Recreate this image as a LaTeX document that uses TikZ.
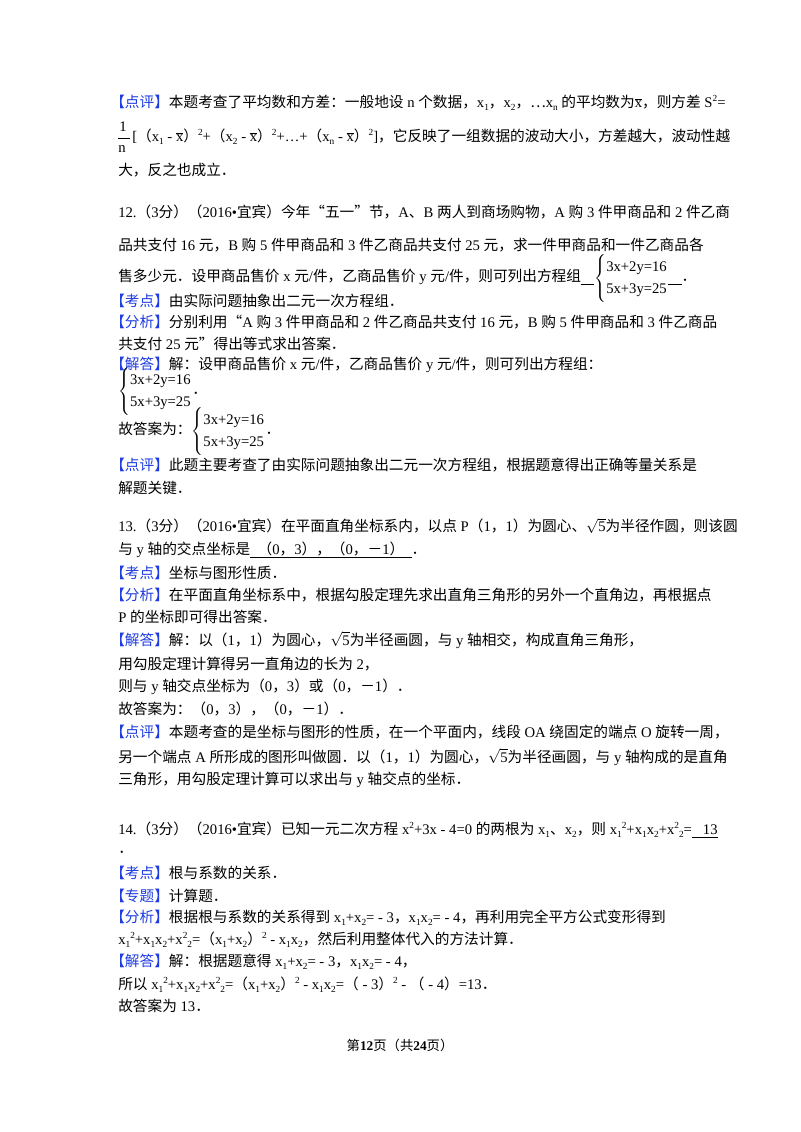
\documentclass[tikz,border=0pt]{standalone}
\usepackage{fontspec}
\setmainfont{Liberation Serif}
\newfontfamily\cjk{Noto Sans CJK SC}
\XeTeXinterchartokenstate=1
\newXeTeXintercharclass\cjkcls
\makeatletter
\count@="4E00 \loop \XeTeXcharclass\count@=\cjkcls \ifnum\count@<"9FFF \advance\count@ 1 \repeat
\count@="3000 \loop \XeTeXcharclass\count@=\cjkcls \ifnum\count@<"303F \advance\count@ 1 \repeat
\count@="FF00 \loop \XeTeXcharclass\count@=\cjkcls \ifnum\count@<"FFEF \advance\count@ 1 \repeat
\XeTeXcharclass"201C=\cjkcls \XeTeXcharclass"201D=\cjkcls \XeTeXcharclass"22EF=\cjkcls
\makeatother
\XeTeXinterchartoks 0 \cjkcls = {\begingroup\cjk}
\XeTeXinterchartoks 4095 \cjkcls = {\begingroup\cjk}
\XeTeXinterchartoks \cjkcls 0 = {\endgroup}
\XeTeXinterchartoks \cjkcls 4095 = {\endgroup}
\definecolor{labblue}{RGB}{30,60,225}
\newcommand\lab[1]{{\color{labblue}【#1】}}
\newcommand\dn[1]{\raisebox{-0.4ex}{\fontsize{7}{7}\selectfont #1}}
\newcommand\up[1]{\raisebox{0.9ex}{\fontsize{7}{7}\selectfont #1}}
\newcommand\xb{$\overline{\mbox{x}}$}
\newcommand\rtf{$\sqrt{\mbox{5}}$}
\newcommand\sys{{\renewcommand\arraystretch{1.3}$\left\{\begin{array}{@{}l@{}}\mbox{3x+2y=16}\\\mbox{5x+3y=25}\end{array}\right.$}}
\newcommand\ul[1]{\underline{\ \ #1\ \ }}
\newcommand\blank{\rule[-2pt]{10pt}{0.5pt}}
\begin{document}
\begin{tikzpicture}[x=0.75pt,y=-0.75pt,
  ln/.style={anchor=west,inner sep=0pt,font=\fontsize{11}{13}\selectfont}]
\useasboundingbox (0,0) rectangle (800,1132);
\fill[white] (0,0) rectangle (800,1132);
% block 1
\node[ln] (a1) at (110,103) {\lab{点评}本题考查了平均数和方差：一般地设 n 个数据，x\dn1，x\dn2，⋯x\dn{n} 的平均数为\xb，则方差 S\up2=};
\node[ln] (fn1) at (119,127) {1};
\node[ln] (fn2) at (118,149) {n};
\draw[line width=0.6pt] (118,138) -- (130,138);
\node[ln] (a2) at (132,137) {[（x\dn1 - \xb）\up2+（x\dn2 - \xb）\up2+…+（x\dn{n} - \xb）\up2]，它反映了一组数据的波动大小，方差越大，波动性越};
\node[ln] (a3) at (118,170) {大，反之也成立．};
% Q12
\node[ln] (b1) at (118,212) {12.（3分）（2016•宜宾）今年“五一”节，A、B 两人到商场购物，A 购 3 件甲商品和 2 件乙商};
\node[ln] (b2) at (118,245) {品共支付 16 元，B 购 5 件甲商品和 3 件乙商品共支付 25 元，求一件甲商品和一件乙商品各};
\node[ln] (b3) at (118,278) {售多少元．设甲商品售价 x 元/件，乙商品售价 y 元/件，则可列出方程组\blank\sys\blank．};
\node[ln] (b4) at (110,301) {\lab{考点}由实际问题抽象出二元一次方程组．};
\node[ln] (b5) at (110,322) {\lab{分析}分别利用“A 购 3 件甲商品和 2 件乙商品共支付 16 元，B 购 5 件甲商品和 3 件乙商品};
\node[ln] (b6) at (118,344) {共支付 25 元”得出等式求出答案．};
\node[ln] (b7) at (110,365) {\lab{解答}解：设甲商品售价 x 元/件，乙商品售价 y 元/件，则可列出方程组：};
\node[ln] (b8) at (118,391) {\sys．};
\node[ln] (b9) at (118,431) {故答案为：\sys．};
\node[ln] (b10) at (110,465) {\lab{点评}此题主要考查了由实际问题抽象出二元一次方程组，根据题意得出正确等量关系是};
\node[ln] (b11) at (118,488) {解题关键．};
% Q13
\node[ln] (c1) at (118,526) {13.（3分）（2016•宜宾）在平面直角坐标系内，以点 P（1，1）为圆心、\rtf 为半径作圆，则该圆};
\node[ln] (c2) at (118,550) {与 y 轴的交点坐标是\ul{（0，3），（0，－1）}．};
\node[ln] (c3) at (110,573) {\lab{考点}坐标与图形性质．};
\node[ln] (c4) at (110,595) {\lab{分析}在平面直角坐标系中，根据勾股定理先求出直角三角形的另外一个直角边，再根据点};
\node[ln] (c5) at (118,617) {P 的坐标即可得出答案．};
\node[ln] (c6) at (110,640) {\lab{解答}解：以（1，1）为圆心，\rtf 为半径画圆，与 y 轴相交，构成直角三角形，};
\node[ln] (c7) at (118,664) {用勾股定理计算得另一直角边的长为 2，};
\node[ln] (c8) at (118,687) {则与 y 轴交点坐标为（0，3）或（0，－1）．};
\node[ln] (c9) at (118,709) {故答案为：（0，3），（0，－1）．};
\node[ln] (c10) at (110,732) {\lab{点评}本题考查的是坐标与图形的性质，在一个平面内，线段 OA 绕固定的端点 O 旋转一周，};
\node[ln] (c11) at (118,757) {另一个端点 A 所形成的图形叫做圆．以（1，1）为圆心，\rtf 为半径画圆，与 y 轴构成的是直角};
\node[ln] (c12) at (118,780) {三角形，用勾股定理计算可以求出与 y 轴交点的坐标．};
% Q14
\node[ln] (d1) at (118,830) {14.（3分）（2016•宜宾）已知一元二次方程 x\up2+3x - 4=0 的两根为 x\dn1、x\dn2，则 x\dn1\up2+x\dn1x\dn2+x\up2\dn2=\underline{\ \ \ 13}};
\node[ln] (d2) at (118,852) {．};
\node[ln] (d3) at (110,873) {\lab{考点}根与系数的关系．};
\node[ln] (d4) at (110,896) {\lab{专题}计算题．};
\node[ln] (d5) at (110,918) {\lab{分析}根据根与系数的关系得到 x\dn1+x\dn2= - 3，x\dn1x\dn2= - 4，再利用完全平方公式变形得到};
\node[ln] (d6) at (118,940) {x\dn1\up2+x\dn1x\dn2+x\up2\dn2=（x\dn1+x\dn2）\up2 - x\dn1x\dn2，然后利用整体代入的方法计算．};
\node[ln] (d7) at (110,962) {\lab{解答}解：根据题意得 x\dn1+x\dn2= - 3，x\dn1x\dn2= - 4，};
\node[ln] (d8) at (118,985) {所以 x\dn1\up2+x\dn1x\dn2+x\up2\dn2=（x\dn1+x\dn2）\up2 - x\dn1x\dn2=（ - 3）\up2 - （ - 4）=13．};
\node[ln] (d9) at (118,1006) {故答案为 13．};
% footer
\node[inner sep=0pt,font=\fontsize{10}{12}\selectfont] (ft) at (400,1045) {第\textbf{12}页（共\textbf{24}页）};
\end{tikzpicture}
\end{document}
